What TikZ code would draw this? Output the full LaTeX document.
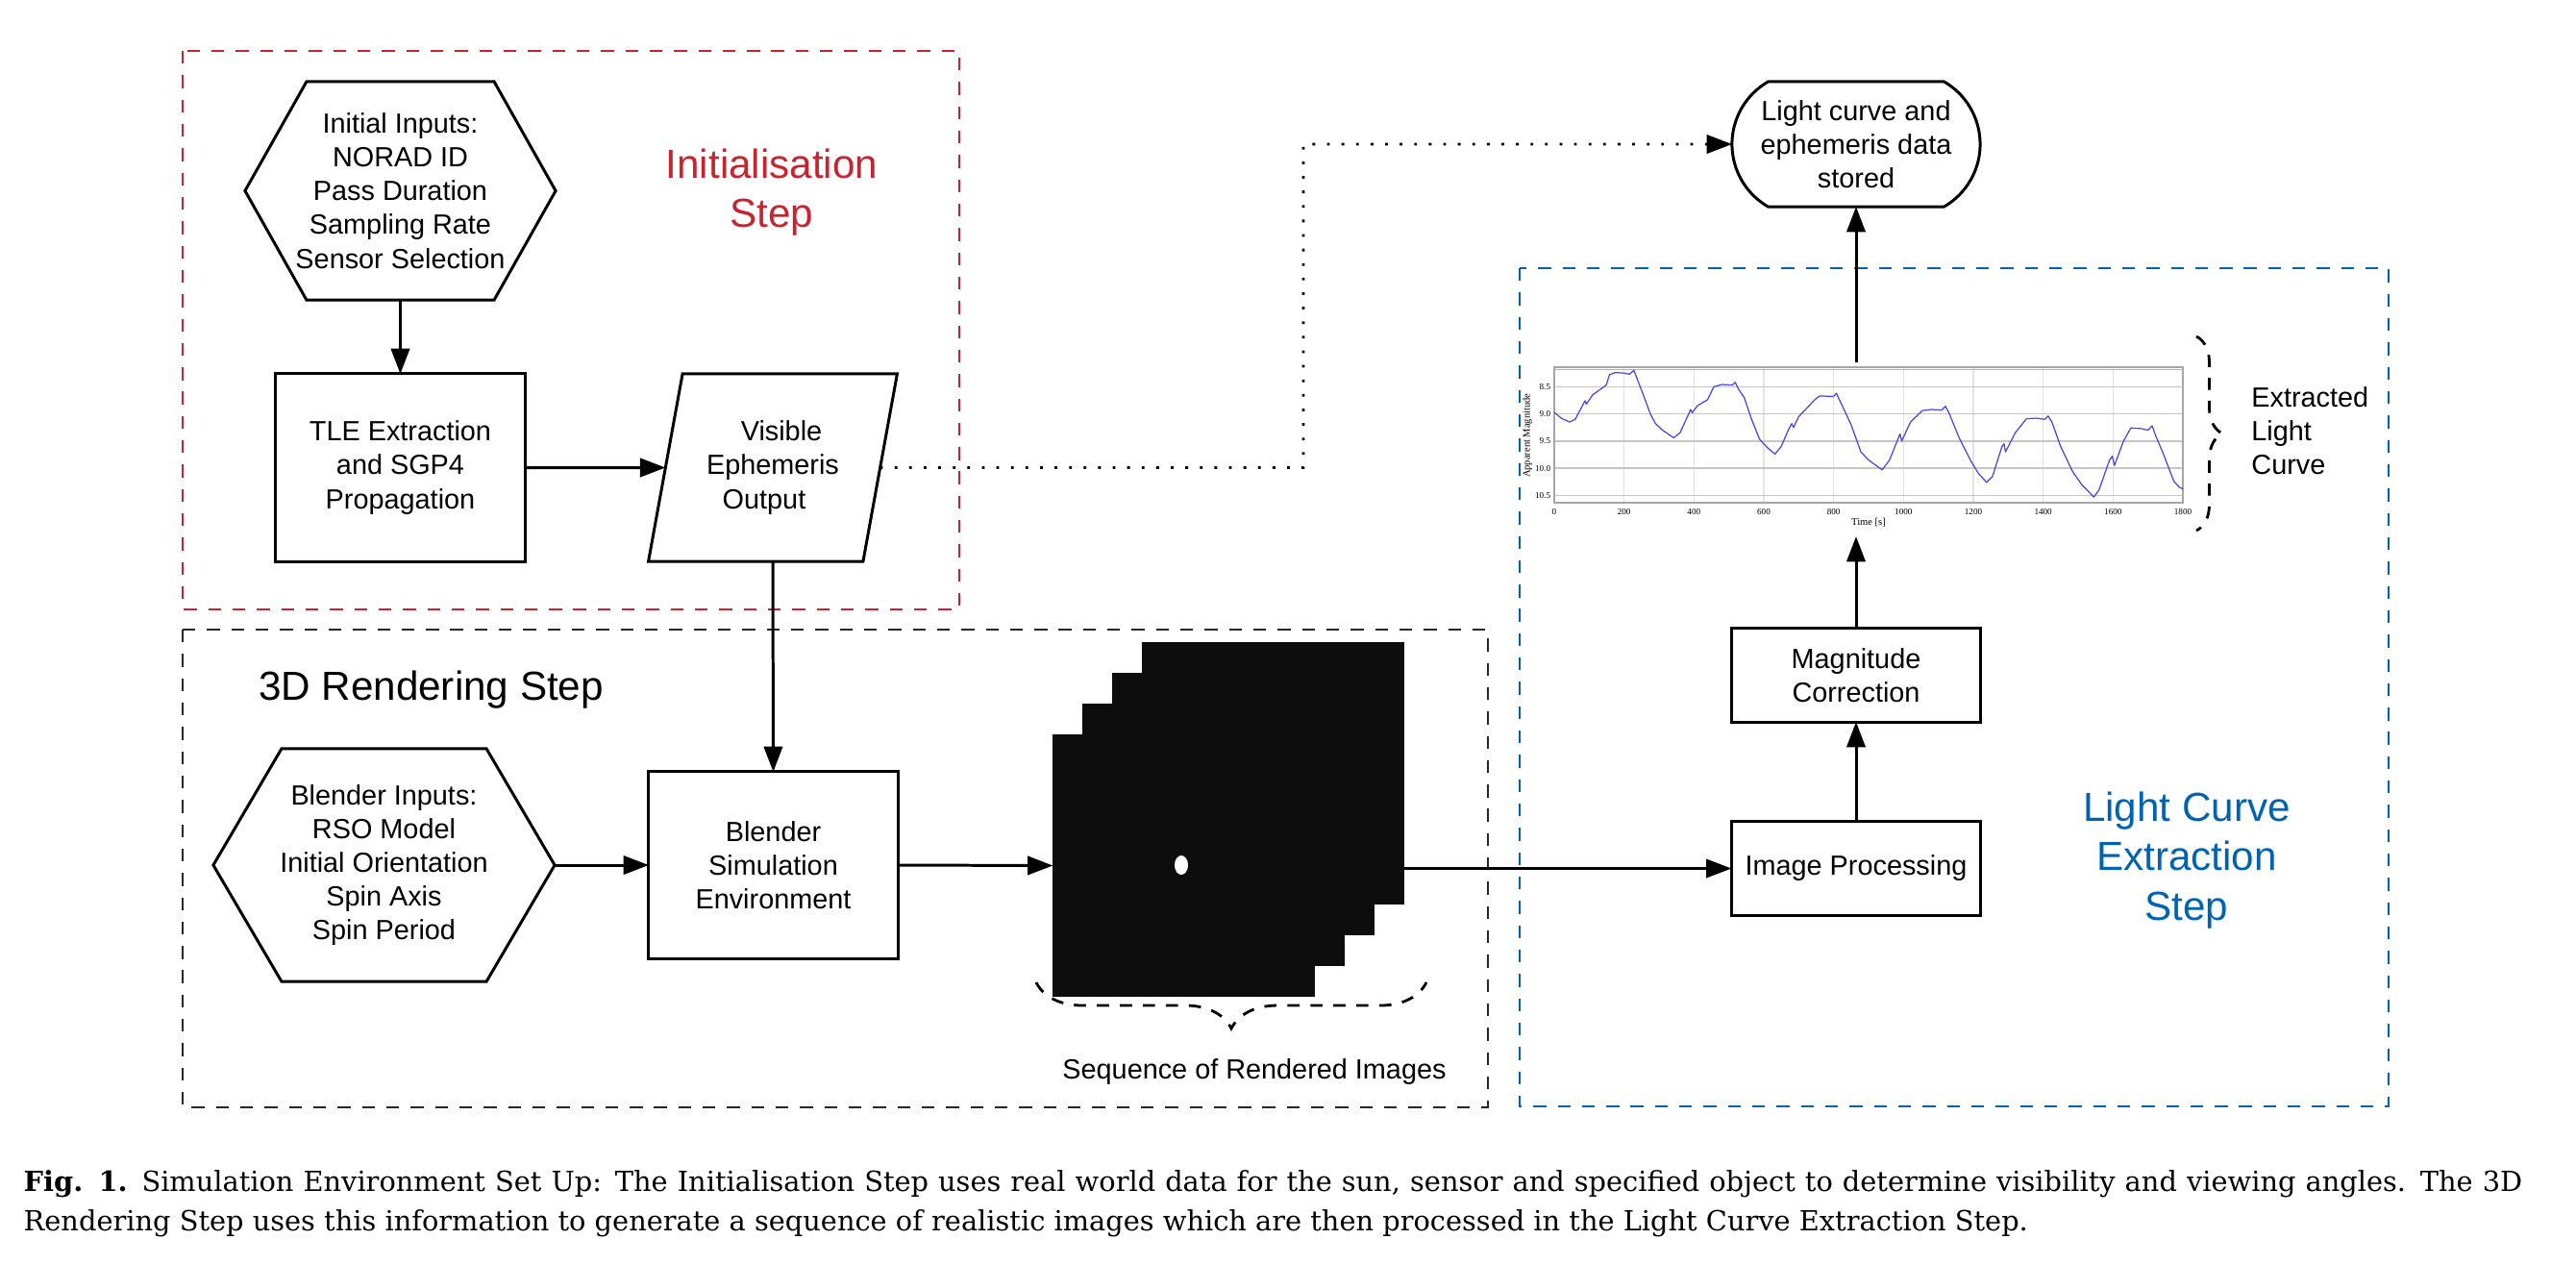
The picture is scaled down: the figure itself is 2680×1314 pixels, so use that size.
\documentclass[tikz,border=0pt]{standalone}
\usepackage{fontspec}
\setmainfont{Liberation Sans}
\newfontfamily\capfont{DejaVu Serif}
\newfontfamily\tickfont{Liberation Serif}
\usepackage{xcolor}
\usetikzlibrary{arrows.meta, calc, math}
\usetikzlibrary{shapes.geometric, shapes.misc}
\usetikzlibrary{decorations.pathreplacing}
\definecolor{myred}{RGB}{200, 36, 48}
\definecolor{myblue}{RGB}{0, 99, 178}
\definecolor{curveblue}{RGB}{70, 70, 230}

\begin{document}
\begin{tikzpicture}[x=0.01cm, y=-0.01cm,
  box/.style={draw, line width=0.85pt, minimum width=2.59cm, minimum height=1.95cm, align=center, inner sep=0pt, outer sep=0pt, font=\fontsize{8.2}{10}\selectfont},
  hexnode/.style={align=center, inner sep=0pt, outer sep=0pt, font=\fontsize{8.2}{10}\selectfont},
  arr/.style={-{Triangle[length=7.5pt,width=5.5pt]}, line width=0.85pt},
  grp/.style={line width=0.8pt, dash pattern=on 3.8pt off 3.4pt},
  steplabel/.style={align=center, font=\fontsize{12}{14.6}\selectfont},
  ticklabel/.style={font=\tickfont\fontsize{2.6}{3}\selectfont, inner sep=0.5pt},
]
\tikzmath{
\tx=0.36333;
}
\useasboundingbox (0,0) rectangle (2680,1314);

% group boxes
\draw[grp, myred] (190,53) rectangle (998,634);
\draw[grp, black!85] (190,655) rectangle (1548,1152);
\draw[grp, myblue] (1581,279) rectangle (2485,1151);

\node[steplabel, text=myred] (initlabel) at (803,200) {Initialisation\\Step};
\node[steplabel] (renderlabel) at (448.5,718) {3D Rendering Step};
\node[steplabel, text=myblue] (lclabel) at (2275,895) {Light Curve\\Extraction\\Step};

% initialisation step
\node[hexnode, minimum width=3.23cm, minimum height=2.27cm] (init) at (416.5,198.5)
  {Initial Inputs:\\NORAD ID\\Pass Duration\\Sampling Rate\\Sensor Selection};
\node[box] (tle) at (416.5,486.5) {TLE Extraction\\and SGP4\\Propagation};
\node[box, trapezium, trapezium left angle=75, trapezium right angle=105, trapezium stretches=true] (vis) at (804,486.5)
  {\hspace*{0.18cm}Visible\\Ephemeris\\Output\hspace*{0.18cm}};

% 3D rendering step
\node[hexnode, minimum width=3.55cm, minimum height=2.42cm] (blendin) at (399.5,900)
  {Blender Inputs:\\RSO Model\\Initial Orientation\\Spin Axis\\Spin Period};
\node[box, minimum height=1.94cm] (blender) at (804.5,900) {Blender\\Simulation\\Environment};

\foreach \n/\d in {init/64, blendin/71}
  \draw[line width=0.85pt, line join=miter] (\n.west) -- ($(\n.north west)+(\d,0)$) -- ($(\n.north east)+(-\d,0)$)
    -- (\n.east) -- ($(\n.south east)+(-\d,0)$) -- ($(\n.south west)+(\d,0)$) -- cycle;

\foreach \i in {3,2,1,0}
  \node[fill=black!95, minimum size=2.72cm, inner sep=0pt, outer sep=0pt] (img\i) at (1231.5+31*\i, 900.5-32*\i) {};
\node[fill=white, ellipse, inner sep=0pt, minimum width=0.14cm, minimum height=0.2cm] (obj) at (1229,900) {};

\coordinate (bA) at (1078,1022);
\coordinate (bB) at (1484,1022);
\draw[line width=0.8pt, dash pattern=on 3.6pt off 3.2pt, decorate, decoration={brace, mirror, amplitude=0.48cm}] (bA) -- (bB);
\node[font=\fontsize{8.2}{10}\selectfont] (seqlabel) at (1305,1115) {Sequence of Rendered Images};

% light curve extraction step
\node[box, minimum height=0.97cm] (ip) at (1931,903.5) {Image Processing};
\node[box, minimum height=0.97cm] (mag) at (1931,702.5) {Magnitude\\Correction};
\node[draw, line width=0.85pt, rounded rectangle, rounded rectangle arc length=120, minimum width=2.58cm, minimum height=1.3cm,
  align=center, inner sep=0pt, outer sep=0pt, font=\fontsize{8.2}{10}\selectfont] (store) at (1931,150)
  {Light curve and\\ephemeris data\\stored};
\node[minimum width=6.88cm, minimum height=1.81cm, inner sep=0pt, outer sep=0pt] (lc) at (1931,467.5) {};

% light curve plot
\begin{scope}[shift={(1617,-78.25)}, x=0.0036333cm, y=-0.565cm]
\foreach \t in {200,400,...,1600}
  \draw[gray!22, line width=0.3pt] (\t,8.146) -- (\t,10.64);
\foreach \v in {8.5,9.0,9.5,10.0,10.5} {
  \draw[gray!45, line width=0.45pt] (0,\v) -- (1800,\v);
  \node[ticklabel, anchor=east] at (-4,\v) {\v};
}
\foreach \t in {0,200,...,1800}
  \node[ticklabel] at (\t,10.8) {\t};
\draw[gray!70, line width=0.5pt] (0,8.146) rectangle (1800,10.64);
\draw[gray!60, line width=0.4pt] (0,8.19) -- (1800,8.19);
\node[font=\tickfont\fontsize{3}{3}\selectfont, inner sep=0pt] at (900,10.99) {Time [s]};
\node[font=\tickfont\fontsize{3}{3}\selectfont, inner sep=0pt, rotate=90] at (-77,9.4) {Apparent Magnitude};
\draw[curveblue, line width=0.35pt, line join=round] plot coordinates {
(0,8.97) (20,9.08) (44,9.15) (60,9.1) (88,8.76) (92,8.82) (110,8.65) (149,8.47) (158,8.28) (175,8.24)
(200,8.25) (215,8.27) (228,8.2) (240,8.4) (255,8.65) (275,9.0) (290,9.18) (310,9.3) (342,9.44) (360,9.35)
(385,9.0) (390,8.92) (395,8.98) (410,8.85) (439,8.74) (457,8.5) (480,8.46) (510,8.47) (518,8.42) (528,8.55)
(544,8.7) (565,9.1) (588,9.47) (610,9.62) (632,9.74) (650,9.6) (670,9.3) (680,9.18) (685,9.25) (700,9.05)
(746,8.74) (760,8.67) (800,8.68) (808,8.62) (815,8.72) (850,9.2) (878,9.7) (900,9.85) (939,10.03) (960,9.85)
(985,9.45) (990,9.37) (995,9.5) (1020,9.15) (1054,8.94) (1080,8.92) (1110,8.93) (1120,8.86) (1130,8.98) (1160,9.45)
(1194,9.88) (1215,10.1) (1238,10.26) (1255,10.15) (1282,9.6) (1288,9.55) (1292,9.7) (1320,9.35) (1352,9.09) (1380,9.08)
(1405,9.1) (1414,9.04) (1425,9.15) (1450,9.6) (1484,10.06) (1510,10.3) (1545,10.53) (1560,10.4) (1590,9.85) (1598,9.78)
(1604,9.95) (1630,9.5) (1651,9.26) (1680,9.27) (1700,9.3) (1712,9.22) (1722,9.4) (1745,9.75) (1774,10.24) (1790,10.35)
(1800,10.38)};
\end{scope}

\coordinate (eA) at (2285,350);
\coordinate (eB) at (2285,552);
\draw[line width=0.8pt, dash pattern=on 3.6pt off 3.2pt, decorate, decoration={brace, amplitude=0.27cm}] (eA) -- (eB);
\node[anchor=west, align=left, font=\fontsize{8.2}{10}\selectfont] (extlabel) at (2330,448) {Extracted\\Light\\Curve};

% connectors
\draw[arr] (init.south) -- (tle.north);
\draw[arr] (tle.east) -- (vis.west);
\draw[arr] (vis.south) -- (blender.north);
\draw[arr] (blendin.east) -- (blender.west);
\draw[arr] (blender.east) -- (img0.west);
\draw[arr, line width=0.7pt] (ip.west -| img3.east) -- (ip.west);
\draw[arr] (ip.north) -- (mag.north |- mag.south);
\draw[arr] (mag.north) -- (mag.north |- lc.south);
\draw[arr] (lc.north) -- (store.south);
\coordinate (turn) at (1356,486.5);
\draw[arr, line width=0.8pt, dash pattern=on 0.8pt off 3.5pt] (vis.east) -- (turn) |- (store.west);

% caption
\node[anchor=west, inner sep=0pt, font=\capfont\fontsize{8.2}{10}\selectfont] (cap1) at (24,1232)
  {\makebox[25.98cm][s]{\textbf{Fig. 1.} Simulation Environment Set Up: The Initialisation Step uses real world data for the sun, sensor and specified object to determine visibility and viewing angles. The 3D}};
\node[anchor=west, inner sep=0pt, font=\capfont\fontsize{8.2}{10}\selectfont] (cap2) at (24,1273)
  {Rendering Step uses this information to generate a sequence of realistic images which are then processed in the Light Curve Extraction Step.};
\end{tikzpicture}
\end{document}
